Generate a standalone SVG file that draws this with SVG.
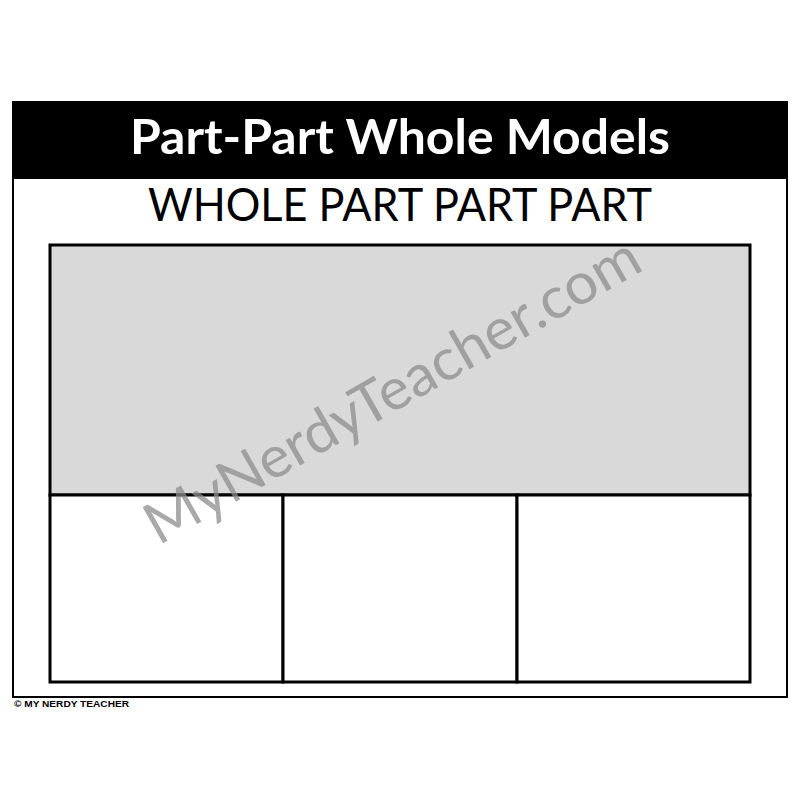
<svg xmlns="http://www.w3.org/2000/svg" width="800" height="800" viewBox="0 0 800 800">
<style>
.box{fill:#fff;stroke:#000;stroke-width:3}
.title{font-family:"Lato","Liberation Sans",sans-serif;font-weight:bold;fill:#fff}
.sub{font-family:"Lato","Liberation Sans",sans-serif;fill:#000}
</style>
<rect width="800" height="800" fill="#fff"/>
<g id="frame">
<rect x="13" y="102" width="774" height="595" fill="#fff" stroke="#000" stroke-width="2"/>
<rect x="12" y="102" width="776" height="77" fill="#000"/>
<text class="title" x="400" y="154" font-size="48" text-anchor="middle" textLength="540" lengthAdjust="spacingAndGlyphs">Part-Part Whole Models</text>
<text class="sub" x="400" y="221" font-size="46" text-anchor="middle" textLength="504" lengthAdjust="spacingAndGlyphs">WHOLE PART PART PART</text>
</g>
<g id="whole"><rect x="50" y="245" width="700" height="250" fill="#d9d9d9" stroke="#000" stroke-width="3"/></g>
<g id="part1"><rect class="box" x="50" y="495" width="233" height="187"/></g>
<g id="part2"><rect class="box" x="283" y="495" width="234" height="187"/></g>
<g id="part3"><rect class="box" x="517" y="495" width="233" height="187"/></g>
<g id="connectors"></g>
<text x="393" y="410" font-family="Lato,'Liberation Sans',sans-serif" font-size="58" fill="#8c8c8c" fill-opacity="0.75" text-anchor="middle" textLength="560" lengthAdjust="spacingAndGlyphs" transform="rotate(-29.6 393 392)">MyNerdyTeacher.com</text>
<text x="14" y="707" font-family="'Liberation Sans',sans-serif" font-weight="bold" font-size="9.5" fill="#000" textLength="115" lengthAdjust="spacingAndGlyphs">© MY NERDY TEACHER</text>
</svg>
